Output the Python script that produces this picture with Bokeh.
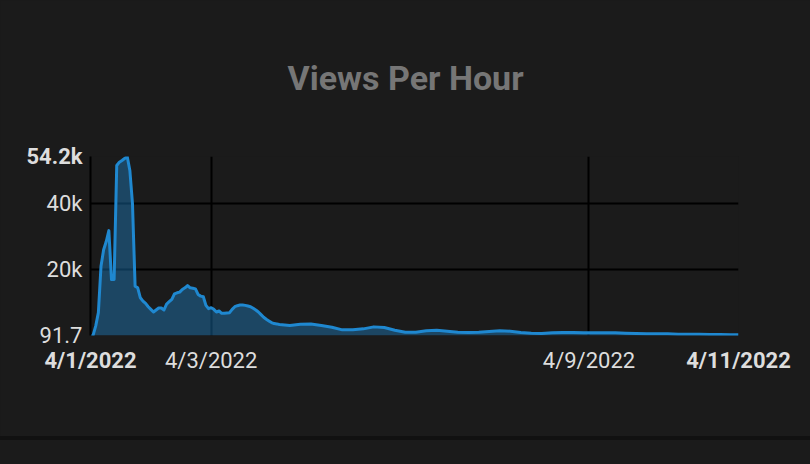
from datetime import datetime, timedelta

from bokeh.embed import file_html
from bokeh.models import DatetimeTickFormatter, FixedTicker, Label, Range1d
from bokeh.plotting import figure
from bokeh.resources import INLINE

# ---------------- data ----------------
title_text = "Views Per Hour"
start_time = datetime(2022, 4, 1, 2, 0)
# hour offsets from start_time (hourly at first, then every 4 hours)
hours = list(range(0, 73)) + list(range(76, 245, 4)) + [247]
views = [
    91.7, 200, 3000, 7000, 21000, 26000, 28500, 31800, 17000, 17000,
    51500, 52500, 53000, 53600, 54210, 50000, 40000, 15000, 14500, 11500,
    10500, 9800, 8800, 8000, 7200, 7800, 8400, 8400, 7800, 9600,
    10300, 11000, 12700, 13000, 13200, 14000, 14500, 15200, 14500, 14400,
    14200, 12500, 12000, 11800, 9200, 8200, 8500, 8000, 7200, 7500,
    6800, 6800, 6900, 7000, 8000, 8800, 9100, 9300, 9300, 9200,
    9000, 8800, 8300, 7800, 7200, 6400, 5600, 5000, 4500, 4000,
    3700, 3600, 3400,
    3100, 3500, 3600, 3100, 2600, 1800, 1800, 2100, 2700, 2500,
    1700, 1100, 1100, 1500, 1700, 1400, 1100, 1000, 1100, 1300,
    1500, 1400, 1000, 800, 700, 900, 1000, 1000, 900, 900,
    900, 900, 800, 700, 600, 600, 600, 500, 500, 500,
    400, 400, 300,
    300,
]
x_tick_dates = [datetime(2022, 4, 3), datetime(2022, 4, 9)]
y_ticks = [20000, 40000]
y_tick_labels = ["20k", "40k"]

# ---------------- derived ----------------
epoch = datetime(1970, 1, 1)


def to_ms(d):
    return (d - epoch).total_seconds() * 1000


times = [start_time + timedelta(hours=h) for h in hours]
x_ms = [to_ms(t) for t in times]
x_tick_ms = [to_ms(d) for d in x_tick_dates]
y_min, y_max = min(views), max(views)
t_min, t_max = times[0], times[-1]

BG = "#1b1b1b"
LABEL_COLOR = "#dddddd"
LINE_COLOR = "#1f88d0"
FONT = "Roboto"
DATE_FMT = "%-m/%-d/%Y"
X_STANDOFF = 12
Y_STANDOFF = 8

p = figure(
    width=810, height=436,
    x_axis_type="datetime",
    x_range=Range1d(x_ms[0], x_ms[-1]),
    y_range=Range1d(y_min, y_max),
    output_backend="svg", toolbar_location=None,
    min_border_left=90, min_border_right=72,
    min_border_top=155, min_border_bottom=101,
    background_fill_color=BG, border_fill_color=BG,
)
p.outline_line_color = None

# title (centred over the whole chart width)
p.title.text = title_text
p.title.align = "left"
p.title.offset = 197
p.title.vertical_align = "top"
p.title.standoff = 114
p.title.text_font = FONT
p.title.text_font_size = "34px"
p.title.text_font_style = "bold"
p.title.text_color = "#767676"

# grid
for g in (p.xgrid, p.ygrid):
    g.grid_line_color = "#000000"
    g.grid_line_width = 2
p.xgrid.ticker = FixedTicker(ticks=x_tick_ms)
p.ygrid.ticker = FixedTicker(ticks=y_ticks)


def style_axis(ax, standoff):
    ax.major_tick_line_color = None
    ax.minor_tick_line_color = None
    ax.major_tick_out = 0
    ax.major_tick_in = 0
    ax.minor_tick_out = 0
    ax.minor_tick_in = 0
    ax.major_label_standoff = standoff
    ax.major_label_text_font = FONT
    ax.major_label_text_font_size = "22px"
    ax.major_label_text_color = LABEL_COLOR


# x axis
xa = p.xaxis[0]
xa.ticker = FixedTicker(ticks=x_tick_ms)
xa.formatter = DatetimeTickFormatter(
    milliseconds=DATE_FMT, seconds=DATE_FMT, minsec=DATE_FMT,
    minutes=DATE_FMT, hourmin=DATE_FMT, hours=DATE_FMT, days=DATE_FMT,
    months=DATE_FMT, years=DATE_FMT,
)
xa.axis_line_color = None
style_axis(xa, X_STANDOFF)

# y axis (the data minimum is labelled on the axis itself)
ya = p.yaxis[0]
ya.ticker = FixedTicker(ticks=[y_min] + y_ticks)
ya.major_label_overrides = dict(zip([y_min] + y_ticks, [f"{y_min:g}"] + y_tick_labels))
ya.axis_line_color = "#000000"
ya.axis_line_width = 2
style_axis(ya, Y_STANDOFF)

# area + line
p.varea(x=x_ms, y1=y_min, y2=views, fill_color=LINE_COLOR, fill_alpha=0.4)
p.line(x=x_ms, y=views, line_color=LINE_COLOR, line_width=3, line_join="round")


# bold labels for the data extremes (first/last date, max value);
# placed in the side panels so they are not clipped to the plot frame
def bold_label(side, **kw):
    p.add_layout(Label(text_font=FONT, text_font_size="22px",
                       text_font_style="bold", text_color=LABEL_COLOR, **kw), side)


bold_label("below", x=x_ms[0], y=y_min, y_offset=-X_STANDOFF,
           text=f"{t_min.month}/{t_min.day}/{t_min.year}",
           text_align="center", text_baseline="top")
bold_label("below", x=x_ms[-1], y=y_min, y_offset=-X_STANDOFF,
           text=f"{t_max.month}/{t_max.day}/{t_max.year}",
           text_align="center", text_baseline="top")
bold_label("right", x=x_ms[0], y=y_max, x_offset=-Y_STANDOFF,
           text=f"{y_max / 1000:.1f}k", text_align="right", text_baseline="middle")

html = file_html(p, INLINE, title=title_text)
html = html.replace(
    "</head>",
    "<style>html { background: linear-gradient(to bottom, #1b1b1b 436px, "
    "#111111 436px, #111111 440px, #1b1b1b 440px); } "
    "body { background: transparent; }</style>\n</head>",
    1,
)
open("out.html", "w").write(html)
